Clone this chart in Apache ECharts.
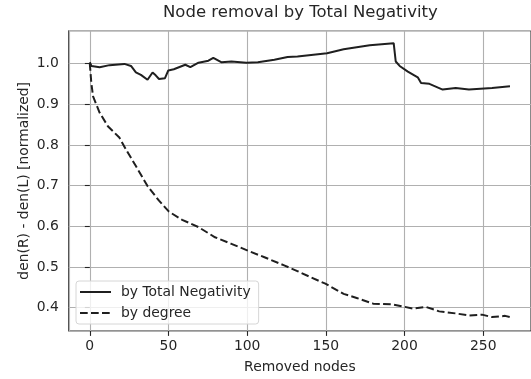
<!DOCTYPE html>
<html>
<head>
<meta charset="utf-8">
<script src="https://cdn.jsdelivr.net/npm/echarts@6/dist/echarts.min.js"></script>
<style>html,body{margin:0;padding:0;background:#fff}#c{width:531px;height:379px}</style>
</head>
<body>
<div id="c"></div>
<script>
// Series 1: by Total Negativity (removed nodes, normalized value)
const negX = [0, 1.1, 6.3, 12.6, 22, 26.2, 29.3, 32.5, 36.7, 39.9, 41.9, 44, 47.8, 49.9, 53.4, 60.7, 63.9, 69.1, 75.4, 78.5, 83.8, 90, 99.5, 106.8, 117.3, 125.7, 132, 150.8, 161.3, 177.9, 193.1, 194.4, 196.9, 202.1, 208.4, 210.5, 215.8, 224.2, 232.5, 240.9, 255.6, 267];
const negY = [1.003, 0.994, 0.991, 0.996, 0.999, 0.994, 0.978, 0.972, 0.960, 0.978, 0.971, 0.962, 0.964, 0.983, 0.986, 0.997, 0.991, 1.002, 1.007, 1.014, 1.003, 1.005, 1.002, 1.003, 1.009, 1.016, 1.017, 1.025, 1.035, 1.045, 1.050, 1.005, 0.994, 0.980, 0.966, 0.952, 0.950, 0.936, 0.940, 0.936, 0.940, 0.944];
// Series 2: by degree
const degX = [0, 1, 2.1, 6.3, 11.5, 18.8, 23, 29.3, 36.7, 44, 50.3, 58.7, 69.1, 79.6, 90, 100.5, 111, 123.5, 131.9, 140.3, 149.7, 161.3, 169.6, 180.1, 192.7, 205.3, 213.6, 222, 232.5, 240.9, 249.2, 255.6, 263.9, 267];
const degY = [1.001, 0.952, 0.919, 0.879, 0.846, 0.818, 0.789, 0.748, 0.699, 0.663, 0.636, 0.616, 0.598, 0.573, 0.557, 0.540, 0.524, 0.504, 0.490, 0.475, 0.459, 0.434, 0.424, 0.410, 0.408, 0.398, 0.402, 0.391, 0.386, 0.381, 0.383, 0.377, 0.380, 0.377];
const seriesNames = ['by Total Negativity', 'by degree'];
const titleText = 'Node removal by Total Negativity';
const xName = 'Removed nodes';
const yName = 'den(R) - den(L) [normalized]';

const zip = (xs, ys) => xs.map((x, i) => [x, ys[i]]);
const FONT = 'DejaVu Sans';
const TXT = '#262626';

const chart = echarts.init(document.getElementById('c'), null, {renderer: 'canvas'});
chart.setOption({
  animation: false,
  backgroundColor: '#fff',
  title: {
    text: titleText, left: 163, top: 4, padding: 0,
    textStyle: {fontFamily: FONT, fontSize: 16.5, fontWeight: 'normal', color: TXT}
  },
  grid: {
    left: 68.75, right: -5.25, top: 30.7, bottom: 46.3,
    show: true, borderColor: '#262626', borderWidth: 1.1, backgroundColor: 'transparent'
  },
  xAxis: {
    type: 'value', min: -13.35, max: 280.35,
    name: xName, nameLocation: 'middle', nameGap: 29, nameMoveOverlap: false,
    nameTextStyle: {fontFamily: FONT, fontSize: 13.9, color: TXT},
    axisLine: {show: false},
    axisTick: {show: true, length: 4.9, lineStyle: {color: '#262626', width: 1.1}},
    axisLabel: {fontFamily: FONT, fontSize: 13.9, color: TXT, margin: 8, showMinLabel: false, showMaxLabel: false},
    splitLine: {show: true, lineStyle: {color: '#b0b0b0', width: 1.1}}
  },
  yAxis: {
    type: 'value', min: 0.3428, max: 1.0806,
    name: yName, nameLocation: 'middle', nameGap: 37, nameRotate: 90, nameMoveOverlap: false,
    nameTextStyle: {fontFamily: FONT, fontSize: 13.9, color: TXT},
    axisLine: {show: false},
    axisTick: {show: true, length: 4.9, lineStyle: {color: '#262626', width: 1.1}},
    axisLabel: {fontFamily: FONT, fontSize: 13.9, color: TXT, margin: 10, showMinLabel: false, showMaxLabel: false,
      formatter: v => v.toFixed(1)},
    splitLine: {show: true, lineStyle: {color: '#b0b0b0', width: 1.1}}
  },
  legend: {
    orient: 'vertical', left: 76, top: 281,
    padding: [4, 8, 4, 3], itemGap: 7, itemWidth: 31, itemHeight: 14,
    backgroundColor: 'rgba(255,255,255,0.8)', borderColor: '#d6d6d6', borderWidth: 1, borderRadius: 3,
    itemStyle: {opacity: 0},
    textStyle: {fontFamily: FONT, fontSize: 13.9, color: TXT, padding: [0, 0, 0, 5]},
    data: seriesNames
  },
  series: [
    {name: seriesNames[0], type: 'line', data: zip(negX, negY), symbol: 'none', smooth: false,
     lineStyle: {color: '#1f1f1f', width: 2}, itemStyle: {color: '#1f1f1f'}},
    {name: seriesNames[1], type: 'line', data: zip(degX, degY), symbol: 'none', smooth: false,
     lineStyle: {color: '#1f1f1f', width: 2, type: [7.7, 3.3]}, itemStyle: {color: '#1f1f1f'}}
  ]
});
</script>
</body>
</html>
